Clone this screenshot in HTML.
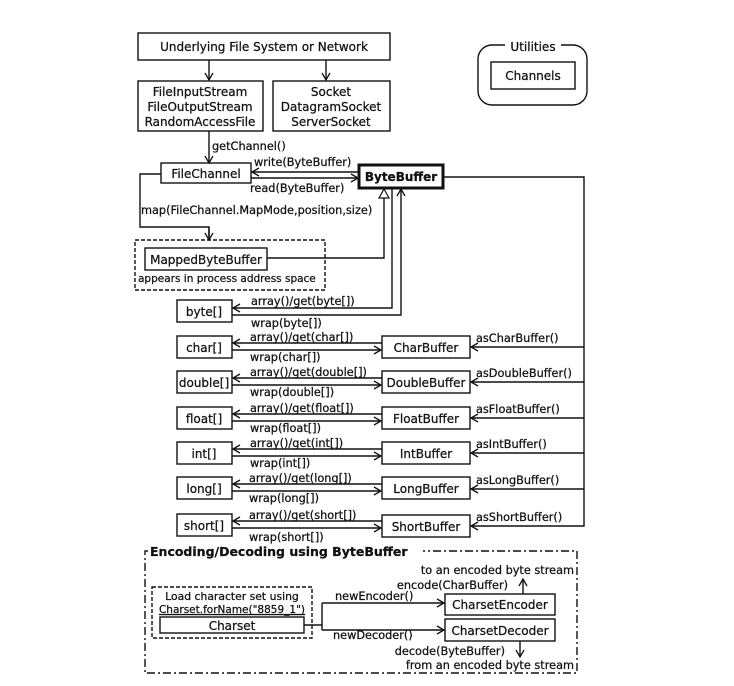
<!DOCTYPE html>
<html><head><meta charset="utf-8"><style>
html,body{margin:0;padding:0;background:#fff}
svg{display:block}
text{font-family:"DejaVu Sans","Liberation Sans",sans-serif;fill:#111;stroke:#111;stroke-width:0.25}
.t{font-size:12px}
.s{font-size:11.3px}
</style></head><body>
<svg width="734" height="686" viewBox="0 0 734 686" xmlns="http://www.w3.org/2000/svg">
<defs>
<marker id="a" markerWidth="10" markerHeight="10" refX="8" refY="5" orient="auto" markerUnits="userSpaceOnUse">
<path d="M1,1 L8,5 L1,9" fill="none" stroke="#111" stroke-width="1.3"/></marker>
<marker id="tri" markerWidth="12" markerHeight="12" refX="10" refY="6" orient="auto" markerUnits="userSpaceOnUse">
<path d="M1,1 L10,6 L1,11 Z" fill="#fff" stroke="#111" stroke-width="1.2"/></marker>
</defs>
<g fill="none" stroke="#111" stroke-width="1.4">
<rect x="138" y="33" width="252" height="27"/>
<line x1="209" y1="60" x2="209" y2="80" marker-end="url(#a)"/>
<line x1="326" y1="60" x2="326" y2="80" marker-end="url(#a)"/>
<rect x="138" y="81" width="125" height="50"/>
<rect x="273" y="81" width="117" height="50"/>
<line x1="209" y1="131" x2="209" y2="163" marker-end="url(#a)"/>
<rect x="478" y="45" width="109" height="60" rx="14"/>
<rect x="491" y="62" width="84" height="27"/>
<rect x="161" y="163" width="90" height="20"/>
<rect x="359" y="165" width="84" height="23" stroke-width="3"/>
<line x1="359" y1="172" x2="252" y2="172" marker-end="url(#a)"/>
<line x1="251" y1="178" x2="358" y2="178" marker-end="url(#a)"/>
<polyline points="161,174 140,174 140,227 209,227 209,240" />
<line x1="209" y1="227" x2="209" y2="240" marker-end="url(#a)"/>
<rect x="135" y="240" width="190" height="50" stroke-dasharray="4,2"/>
<rect x="145" y="248" width="122" height="22"/>
<polyline points="267,258 384,258 384,189" marker-end="url(#tri)"/>
<rect x="177" y="300" width="55" height="22"/>
<polyline points="392,188 392,308 233,308" marker-end="url(#a)"/>
<polyline points="232,315 401,315 401,189" marker-end="url(#a)"/>
<polyline points="443,177 584,177 584,526 471,526" marker-end="url(#a)"/>
<rect x="177" y="336" width="55" height="22"/><rect x="382" y="336" width="88" height="22"/>
<line x1="382" y1="343" x2="233" y2="343" marker-end="url(#a)"/><line x1="232" y1="350" x2="381" y2="350" marker-end="url(#a)"/><line x1="584" y1="347" x2="471" y2="347" marker-end="url(#a)"/>
<rect x="177" y="371" width="55" height="22"/><rect x="382" y="371" width="88" height="22"/>
<line x1="382" y1="378" x2="233" y2="378" marker-end="url(#a)"/><line x1="232" y1="385" x2="381" y2="385" marker-end="url(#a)"/><line x1="584" y1="382" x2="471" y2="382" marker-end="url(#a)"/>
<rect x="177" y="407" width="55" height="22"/><rect x="382" y="407" width="88" height="22"/>
<line x1="382" y1="414" x2="233" y2="414" marker-end="url(#a)"/><line x1="232" y1="421" x2="381" y2="421" marker-end="url(#a)"/><line x1="584" y1="418" x2="471" y2="418" marker-end="url(#a)"/>
<rect x="177" y="442" width="55" height="22"/><rect x="382" y="442" width="88" height="22"/>
<line x1="382" y1="449" x2="233" y2="449" marker-end="url(#a)"/><line x1="232" y1="456" x2="381" y2="456" marker-end="url(#a)"/><line x1="584" y1="453" x2="471" y2="453" marker-end="url(#a)"/>
<rect x="177" y="477" width="55" height="22"/><rect x="382" y="477" width="88" height="22"/>
<line x1="382" y1="484" x2="233" y2="484" marker-end="url(#a)"/><line x1="232" y1="491" x2="381" y2="491" marker-end="url(#a)"/><line x1="584" y1="489" x2="471" y2="489" marker-end="url(#a)"/>
<rect x="177" y="514" width="55" height="22"/><rect x="382" y="515" width="88" height="22"/>
<line x1="382" y1="521" x2="233" y2="521" marker-end="url(#a)"/><line x1="232" y1="528" x2="381" y2="528" marker-end="url(#a)"/>
<rect x="145" y="551" width="432" height="122" stroke-dasharray="8,3,2,3"/>
<rect x="152" y="587" width="160" height="51" stroke-dasharray="4,2"/>
<rect x="160" y="617" width="144" height="16"/>
<polyline points="304,625 322,625"/>
<polyline points="322,603 322,630"/>
<line x1="322" y1="603" x2="444" y2="603" marker-end="url(#a)"/>
<line x1="322" y1="630" x2="444" y2="630" marker-end="url(#a)"/>
<rect x="445" y="594" width="110" height="21"/>
<rect x="445" y="619" width="110" height="22"/>
<line x1="523" y1="594" x2="523" y2="579" marker-end="url(#a)"/>
<line x1="520" y1="641" x2="520" y2="657" marker-end="url(#a)"/>
</g>
<rect x="148" y="543" width="275" height="16" fill="#fff"/>
<rect x="505" y="40" width="56" height="12" fill="#fff"/>
<g class="t" text-anchor="middle">
<text x="264" y="51">Underlying File System or Network</text>
<text x="200" y="96">FileInputStream</text>
<text x="200" y="111">FileOutputStream</text>
<text x="200" y="126">RandomAccessFile</text>
<text x="331" y="96">Socket</text>
<text x="331" y="111">DatagramSocket</text>
<text x="331" y="126">ServerSocket</text>
<text x="533" y="51">Utilities</text>
<text x="533" y="80">Channels</text>
<text x="206" y="178">FileChannel</text>
<text x="401" y="181" font-weight="bold">ByteBuffer</text>
<text x="206" y="264">MappedByteBuffer</text>
<text x="204" y="316">byte[]</text>
<text x="204" y="352">char[]</text>
<text x="204" y="387">double[]</text>
<text x="204" y="423">float[]</text>
<text x="204" y="458">int[]</text>
<text x="204" y="493">long[]</text>
<text x="204" y="530">short[]</text>
<text x="426" y="352">CharBuffer</text>
<text x="426" y="387">DoubleBuffer</text>
<text x="426" y="423">FloatBuffer</text>
<text x="426" y="458">IntBuffer</text>
<text x="426" y="493">LongBuffer</text>
<text x="426" y="531">ShortBuffer</text>
<text x="232" y="630">Charset</text>
<text x="500" y="609">CharsetEncoder</text>
<text x="500" y="635">CharsetDecoder</text>
</g>
<g class="s">
<text x="212" y="150">getChannel()</text>
<text x="254" y="166">write(ByteBuffer)</text>
<text x="250" y="192">read(ByteBuffer)</text>
<text x="141" y="214">map(FileChannel.MapMode,position,size)</text>
<text x="138" y="282" style="font-size:10.5px">appears in process address space</text>
<text x="251" y="305">array()/get(byte[])</text>
<text x="251" y="327">wrap(byte[])</text>
<text x="250" y="341">array()/get(char[])</text>
<text x="250" y="361">wrap(char[])</text>
<text x="250" y="376">array()/get(double[])</text>
<text x="250" y="396">wrap(double[])</text>
<text x="250" y="412">array()/get(float[])</text>
<text x="250" y="432">wrap(float[])</text>
<text x="250" y="447">array()/get(int[])</text>
<text x="250" y="467">wrap(int[])</text>
<text x="249" y="482">array()/get(long[])</text>
<text x="249" y="502">wrap(long[])</text>
<text x="249" y="519">array()/get(short[])</text>
<text x="249" y="541">wrap(short[])</text>
<text x="476" y="342">asCharBuffer()</text>
<text x="476" y="377">asDoubleBuffer()</text>
<text x="476" y="413">asFloatBuffer()</text>
<text x="476" y="448">asIntBuffer()</text>
<text x="476" y="484">asLongBuffer()</text>
<text x="476" y="521">asShortBuffer()</text>
<text x="232" y="600" text-anchor="middle" style="font-size:10.8px">Load character set using</text>
<text x="232" y="613" text-anchor="middle" text-decoration="underline" style="font-size:10.5px">Charset.forName("8859_1")</text>
<text x="335" y="600">newEncoder()</text>
<text x="333" y="639">newDecoder()</text>
<text x="508" y="589" text-anchor="end">encode(CharBuffer)</text>
<text x="505" y="655" text-anchor="end">decode(ByteBuffer)</text>
<text x="574" y="574" text-anchor="end">to an encoded byte stream</text>
<text x="574" y="669" text-anchor="end">from an encoded byte stream</text>
</g>
<text x="150" y="556" style="font-size:12.5px" font-weight="bold">Encoding/Decoding using ByteBuffer</text>
</svg>
</body></html>
